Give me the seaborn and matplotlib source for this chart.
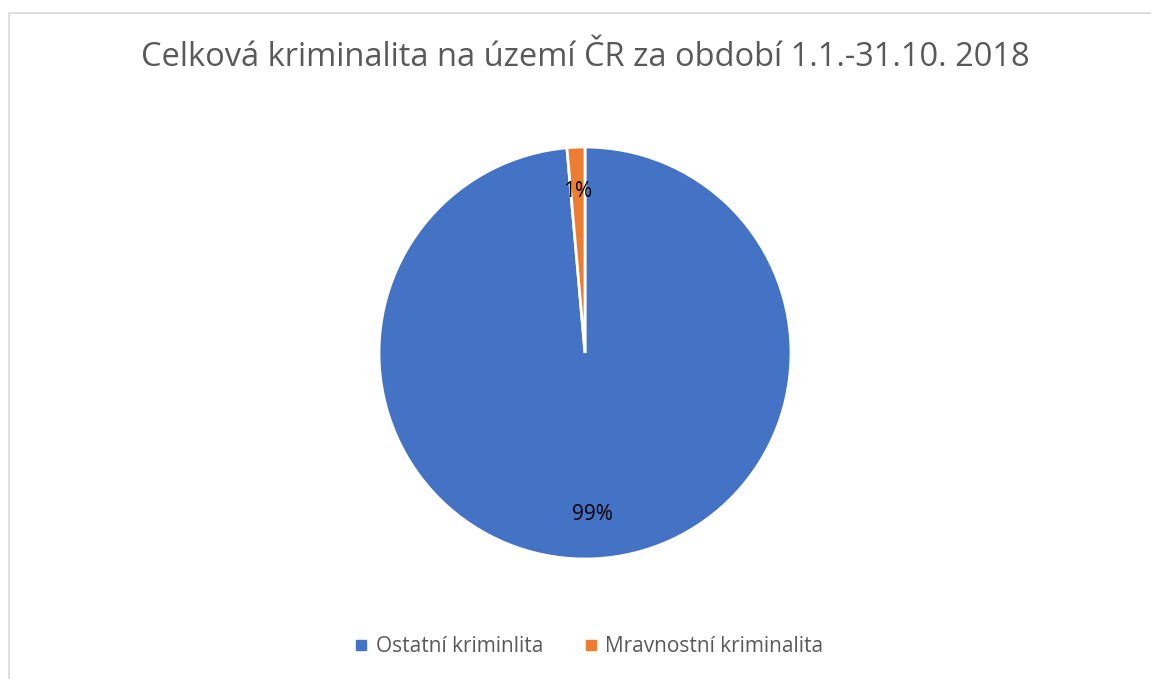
import matplotlib
matplotlib.use("Agg")
import matplotlib.pyplot as plt
import seaborn as sns
from matplotlib.patches import Rectangle
from matplotlib.lines import Line2D

sns.set_theme(style="white")
plt.rcParams['font.family'] = ['Open Sans', 'DejaVu Sans']

# data
categories = ["Ostatní kriminlita", "Mravnostní kriminalita"]
shares = [98.6, 1.4]
colors = ["#4472C4", "#ED7D31"]
title = "Celková kriminalita na území ČR za období 1.1.-31.10. 2018"

W, H = 1151, 679
fig = plt.figure(figsize=(W / 100, H / 100), dpi=100)

# light grey chart frame (open at right/bottom, as in the screenshot)
fig.patches.append(Rectangle((9 / W, -0.1), 1.2, (H - 13) / H + 0.1,
                             transform=fig.transFigure, fill=False,
                             edgecolor="#D9D9D9", linewidth=1.2))

cx, cy, r = 585, 353, 206
ax = fig.add_axes([(cx - r) / W, (H - cy - r) / H, 2 * r / W, 2 * r / H])
wedges, texts, autotexts = ax.pie(
    shares, colors=colors, startangle=90, counterclock=False,
    autopct=lambda p: f"{p:.0f}%", pctdistance=0.785,
    wedgeprops=dict(edgecolor="white", linewidth=2),
    textprops=dict(fontsize=15, color="black"))
ax.set_xlim(-1, 1)
ax.set_ylim(-1, 1)
ax.axis("off")

fig.text(cx / W, (H - 58) / H, title, ha="center", va="center",
         fontsize=23.5, color="#595959")

handles = [Line2D([0], [0], marker="s", linestyle="", markersize=7,
                  markerfacecolor=c, markeredgecolor=c) for c in colors]
fig.legend(handles, categories, loc="center", bbox_to_anchor=(587 / W, (H - 647) / H),
           ncol=2, frameon=False, fontsize=15, labelcolor="#595959",
           handletextpad=0.2, columnspacing=1.8, handlelength=1.0)

fig.savefig("out.png", dpi=100, facecolor="white")
